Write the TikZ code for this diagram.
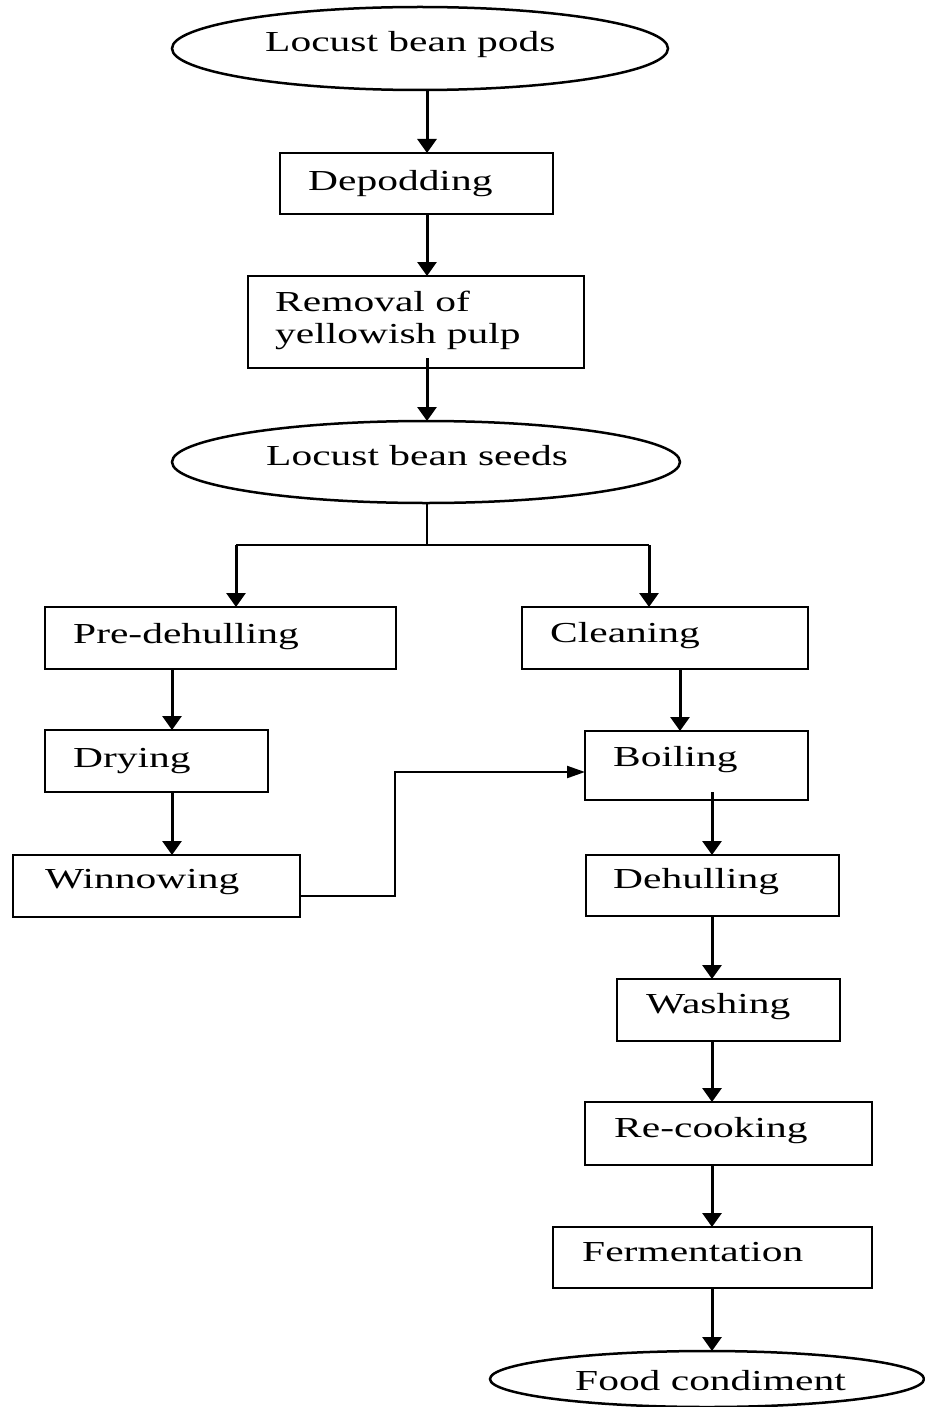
\documentclass[tikz,border=0pt]{standalone}
\usepackage{fontspec}
\setmainfont[FakeStretch=1.43]{Liberation Serif}
\usetikzlibrary{shapes.geometric,arrows.meta}
\begin{document}
\begin{tikzpicture}[x=1pt,y=-1pt,
  box/.style={draw, rectangle, line width=2.5pt, inner sep=0pt, outer sep=0pt},
  oval/.style={draw, ellipse, line width=2.5pt, inner sep=0pt, outer sep=0pt},
  txt/.style={anchor=base west, inner sep=0pt, font=\fontsize{29pt}{34pt}\selectfont},
  arr/.style={line width=3pt, -{Triangle[width=19pt,length=14pt]}},
  conn/.style={line width=2.2pt},
  connarr/.style={line width=2.2pt, -{Triangle[width=12pt,length=18pt]}}]
\useasboundingbox (0,0) rectangle (924,1407);
% shapes
\node[oval, minimum width=496pt, minimum height=83pt] (pods) at (420,48.5) {};
\node[box, minimum width=273pt, minimum height=61pt] (depod) at (416.5,183.5) {};
\node[box, minimum width=336pt, minimum height=92pt] (rem) at (416,322) {};
\node[oval, minimum width=508pt, minimum height=82pt] (seeds) at (426,462) {};
\node[box, minimum width=351pt, minimum height=62pt] (pre) at (220.5,638) {};
\node[box, minimum width=223pt, minimum height=62pt] (dry) at (156.5,761) {};
\node[box, minimum width=287pt, minimum height=62pt] (win) at (156.5,886) {};
\node[box, minimum width=286pt, minimum height=62pt] (clean) at (665,638) {};
\node[box, minimum width=223pt, minimum height=69pt] (boil) at (696.5,765.5) {};
\node[box, minimum width=253pt, minimum height=61pt] (dehull) at (712.5,885.5) {};
\node[box, minimum width=223pt, minimum height=62pt] (wash) at (728.5,1010) {};
\node[box, minimum width=287pt, minimum height=63pt] (recook) at (728.5,1133.5) {};
\node[box, minimum width=319pt, minimum height=61pt] (ferm) at (712.5,1257.5) {};
\node[oval, minimum width=434pt, minimum height=56pt] (food) at (707,1379) {};
% texts
\node[txt] (tpods) at (265,52) {Locust bean pods};
\node[txt] (tdepod) at (308,190) {Depodding};
\node[txt] (trem1) at (275,311) {Removal of};
\node[txt] (trem2) at (275,343) {yellowish pulp};
\node[txt] (tseeds) at (266,465) {Locust bean seeds};
\node[txt] (tpre) at (73,643) {Pre-dehulling};
\node[txt] (tdry) at (73,767) {Drying};
\node[txt] (twin) at (45,888) {Winnowing};
\node[txt] (tclean) at (550,642) {Cleaning};
\node[txt] (tboil) at (613,766) {Boiling};
\node[txt] (tdehull) at (613,888) {Dehulling};
\node[txt] (twash) at (646,1013) {Washing};
\node[txt] (trecook) at (614,1137) {Re-cooking};
\node[txt] (tferm) at (582,1261) {Fermentation};
\node[txt] (tfood) at (575,1390) {Food condiment};
% column coordinates
\coordinate (cA) at (427,0);
\coordinate (cL) at (172,0);
\coordinate (cR) at (680,0);
\coordinate (cM) at (712,0);
\coordinate (bL) at (236,545);
\coordinate (bR) at (649,545);
\coordinate (bM) at (427,545);
\coordinate (wx) at (395,0);
% connectors
\draw[arr] (cA |- pods.south) -- (cA |- depod.north);
\draw[arr] (cA |- depod.south) -- (cA |- rem.north);
\draw[arr] ([yshift=10pt]cA |- rem.south) -- (cA |- seeds.north);
\draw[conn] (cA |- seeds.south) -- (bM);
\draw[conn] (bL) -- (bR);
\draw[arr] (bL) -- (bL |- pre.north);
\draw[arr] (bR) -- (bR |- clean.north);
\draw[arr] (cL |- pre.south) -- (cL |- dry.north);
\draw[arr] (cL |- dry.south) -- (cL |- win.north);
\draw[arr] (cR |- clean.south) -- (cR |- boil.north);
\draw[connarr] ([yshift=-10pt]win.east) -- ([yshift=-10pt]wx |- win.east) |- ([yshift=-6.5pt]boil.west);
\draw[arr] ([yshift=8pt]cM |- boil.south) -- (cM |- dehull.north);
\draw[arr] (cM |- dehull.south) -- (cM |- wash.north);
\draw[arr] (cM |- wash.south) -- (cM |- recook.north);
\draw[arr] (cM |- recook.south) -- (cM |- ferm.north);
\draw[arr] (cM |- ferm.south) -- (cM |- food.north);
\end{tikzpicture}
\end{document}
